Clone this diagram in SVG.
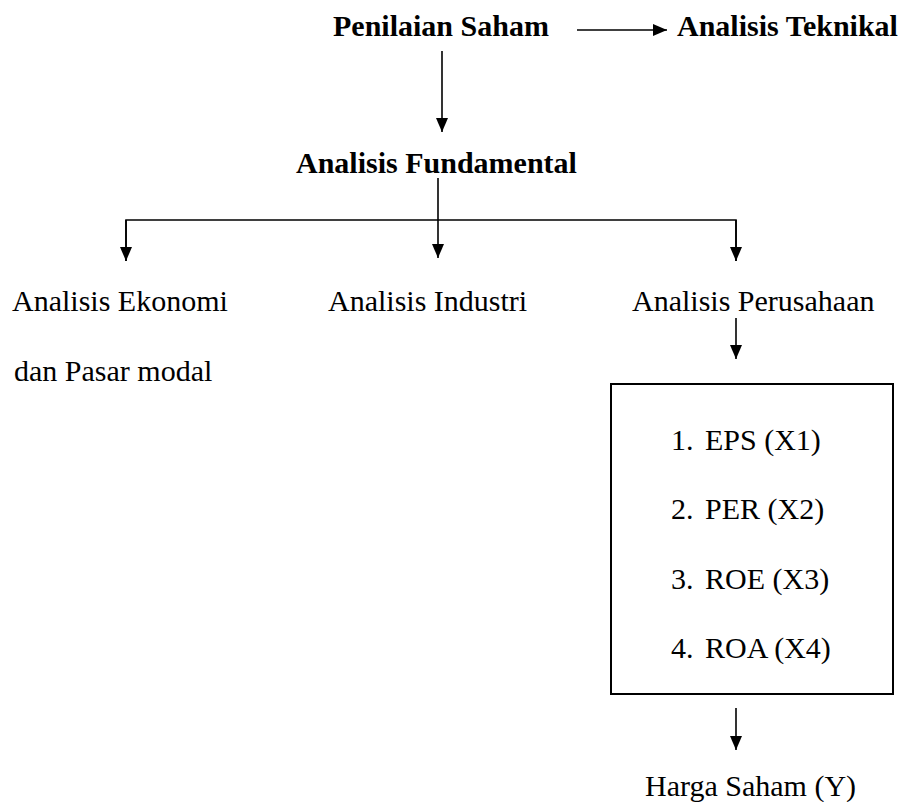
<svg xmlns="http://www.w3.org/2000/svg" width="908" height="802" viewBox="0 0 908 802">
  <style>
    text { font-family: "Liberation Serif", "Times New Roman", serif; font-size: 30px; fill: #000; }
    .b { font-weight: bold; }
    .ln { stroke: #000; stroke-width: 1.6; fill: none; }
    .box { stroke: #000; stroke-width: 2; fill: none; }
  </style>
  <defs>
    <marker id="ah" markerUnits="userSpaceOnUse" markerWidth="15" markerHeight="13" refX="14" refY="6" orient="auto">
      <path d="M0,0 L14,6 L0,12 z" fill="#000"/>
    </marker>
  </defs>
  <rect x="0" y="0" width="908" height="802" fill="#fff"/>

  <g id="penilaian-saham"><text class="b" x="333" y="36">Penilaian Saham</text></g>
  <g id="analisis-teknikal"><text class="b" x="677" y="36">Analisis Teknikal</text></g>
  <g id="analisis-fundamental"><text class="b" x="296" y="173">Analisis Fundamental</text></g>
  <g id="analisis-ekonomi">
    <text x="12" y="311">Analisis Ekonomi</text>
    <text x="14" y="381">dan Pasar modal</text>
  </g>
  <g id="analisis-industri"><text x="328" y="311">Analisis Industri</text></g>
  <g id="analisis-perusahaan"><text x="632" y="311">Analisis Perusahaan</text></g>
  <g id="variabel">
    <rect class="box" x="611" y="384" width="282" height="310"/>
    <text x="671" y="450">1.</text><text x="705" y="450">EPS (X1)</text>
    <text x="671" y="519">2.</text><text x="705" y="519">PER (X2)</text>
    <text x="671" y="589">3.</text><text x="705" y="589">ROE (X3)</text>
    <text x="671" y="658">4.</text><text x="705" y="658">ROA (X4)</text>
  </g>
  <g id="harga-saham"><text x="645" y="796">Harga Saham (Y)</text></g>

  <g id="connectors">
    <line class="ln" x1="577" y1="30" x2="667" y2="30" marker-end="url(#ah)"/>
    <line class="ln" x1="442" y1="51" x2="442" y2="132" marker-end="url(#ah)"/>
    <line class="ln" x1="438" y1="178" x2="438" y2="258" marker-end="url(#ah)"/>
    <polyline class="ln" points="126,261 126,220 736,220 736,261"/>
    <line class="ln" x1="126" y1="220" x2="126" y2="261" marker-end="url(#ah)"/>
    <line class="ln" x1="736" y1="220" x2="736" y2="261" marker-end="url(#ah)"/>
    <line class="ln" x1="736" y1="318" x2="736" y2="359" marker-end="url(#ah)"/>
    <line class="ln" x1="736" y1="708" x2="736" y2="750" marker-end="url(#ah)"/>
  </g>
</svg>
